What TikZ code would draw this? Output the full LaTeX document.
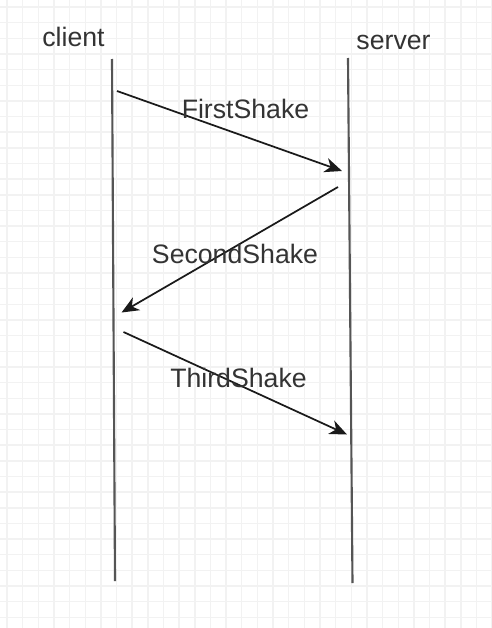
\documentclass[tikz,border=0pt]{standalone}
\usepackage{fontspec}
\setmainfont{Liberation Sans}
\usetikzlibrary{arrows.meta}
\definecolor{gridc}{HTML}{F2F2F2}
\definecolor{txtc}{HTML}{333333}
\definecolor{lifec}{HTML}{555555}
\definecolor{msgc}{HTML}{1A1A1A}
\tikzset{
  gridline/.style={draw=gridc, line width=1.1pt},
  lifeline/.style={draw=lifec, line width=1.6pt},
  msg/.style={draw=msgc, line width=1.3pt, -{Stealth[length=13pt,width=11pt,inset=4pt]}},
  lbl/.style={text=txtc, anchor=base, inner sep=0pt, font=\fontsize{20}{24}\selectfont}
}
\begin{document}
\begin{tikzpicture}[x=0.75pt,y=-0.75pt]
\useasboundingbox (0,0) rectangle (492,628);
\fill[white] (0,0) rectangle (492,628);
\foreach \i in {0,...,31} \draw[gridline] ({7+\i*15.65},0) -- ({7+\i*15.65},628);
\foreach \i in {0,...,40} \draw[gridline] (0,{7+\i*15.65}) -- (492,{7+\i*15.65});
% lifelines
\coordinate (ctop) at (112,59);
\coordinate (cbot) at (115,581);
\coordinate (stop) at (348,58);
\coordinate (sbot) at (352.5,583);
\draw[lifeline] (ctop) -- (cbot);
\draw[lifeline] (stop) -- (sbot);
% labels
\node[lbl] (client) at (73.5,46) {client};
\node[lbl] (server) at (393.5,49) {server};
% messages
\coordinate (m1s) at (117,91);
\coordinate (m1e) at (342,171);
\coordinate (m2s) at (338,187);
\coordinate (m2e) at (121.5,312.5);
\coordinate (m3s) at (123.5,332);
\coordinate (m3e) at (347,434.5);
\draw[msg] (m1s) -- (m1e);
\draw[msg] (m2s) -- (m2e);
\draw[msg] (m3s) -- (m3e);
\node[lbl] (first) at (245.5,118) {FirstShake};
\node[lbl] (second) at (235,263) {SecondShake};
\node[lbl] (third) at (238.5,387) {ThirdShake};
\end{tikzpicture}
\end{document}
